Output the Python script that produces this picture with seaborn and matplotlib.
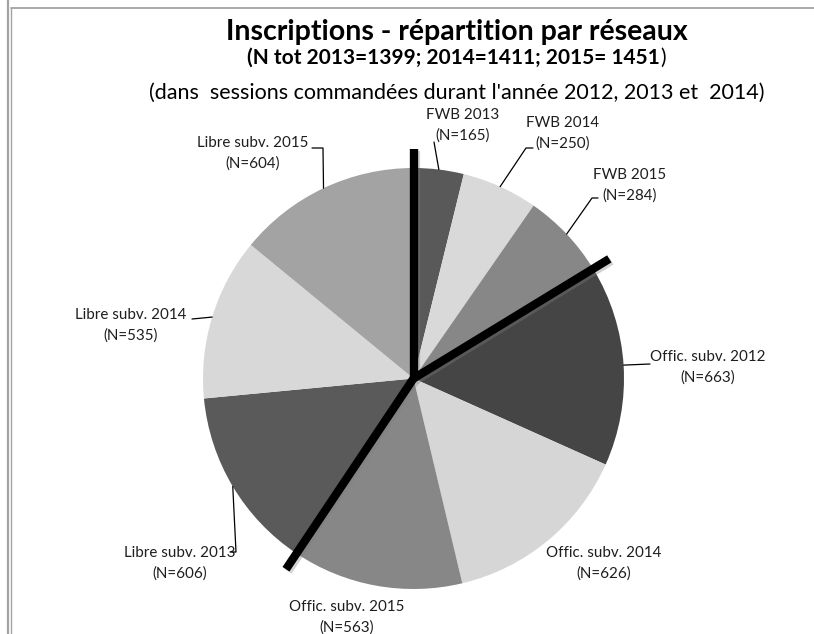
import numpy as np
import matplotlib
matplotlib.use("Agg")
import matplotlib.pyplot as plt
import matplotlib.patheffects as pe
from matplotlib.lines import Line2D
import seaborn as sns

# ---- data -------------------------------------------------------------
categories = ["FWB 2013", "FWB 2014", "FWB 2015",
              "Offic. subv. 2012", "Offic. subv. 2014", "Offic. subv. 2015",
              "Libre subv. 2013", "Libre subv. 2014", "Libre subv. 2015"]
counts = [165, 250, 284, 663, 626, 563, 606, 535, 604]
networks = ["FWB", "FWB", "FWB", "Offic", "Offic", "Offic", "Libre", "Libre", "Libre"]
slice_colors = ["#595959", "#d9d9d9", "#878787",
                "#454545", "#d6d6d6", "#878787",
                "#5a5a5a", "#d8d8d8", "#a3a3a3"]

title = "Inscriptions - répartition par réseaux"
subtitle_bold = "(N tot 2013=1399; 2014=1411; 2015= 1451"
subtitle_end = ")"
subtitle_note = "(dans  sessions commandées durant l'année 2012, 2013 et  2014)"

# ---- layout (pixel units, origin top-left) -----------------------------
W, H = 814, 634
CX, CY, R = 413.5, 378.5, 210.5
# label block: centre of first line, then leader elbow points (label side first)
label_layout = {
    "FWB 2013": ((463, 115), [(434, 142)]),
    "FWB 2014": ((563, 123), [(533, 148), (526, 148)]),
    "FWB 2015": ((630, 175), [(598, 198), (592, 198)]),
    "Offic. subv. 2012": ((708, 357), [(650, 364)]),
    "Offic. subv. 2014": ((604, 553), []),
    "Offic. subv. 2015": ((347, 607), []),
    "Libre subv. 2013": ((180, 553), [(230, 552), (236, 552)]),
    "Libre subv. 2014": ((131, 315), [(192, 319)]),
    "Libre subv. 2015": ((253, 143), [(312, 148), (323, 148)]),
}

sns.set_theme(style="white")
plt.rcParams["font.family"] = ["Lato", "DejaVu Sans"]

fig = plt.figure(figsize=(W / 100, H / 100), dpi=100)
ax = fig.add_axes([0, 0, 1, 1])


def fy(py):
    return H - py


wedges, _ = ax.pie(counts, colors=slice_colors, startangle=90, counterclock=False,
                   center=(CX, fy(CY)), radius=R,
                   wedgeprops=dict(linewidth=0, antialiased=True))
ax.set_xlim(0, W)
ax.set_ylim(0, H)
ax.set_aspect("auto")
ax.axis("off")

# thick separators at the start of each network group
total = float(sum(counts))
cum = np.concatenate([[0], np.cumsum(counts)[:-1]]) / total
for i, net in enumerate(networks):
    if i == 0 or networks[i - 1] != net:
        ang = np.deg2rad(90 - 360 * cum[i])
        ex = CX + 1.09 * R * np.cos(ang)
        ey = fy(CY) + 1.09 * R * np.sin(ang)
        ax.plot([CX, ex], [fy(CY), ey], color="black", lw=6.0,
                solid_capstyle="butt", zorder=5,
                path_effects=[pe.SimpleLineShadow(offset=(1.5, -1.5), shadow_color="gray", alpha=0.35),
                              pe.Normal()])

# labels and leader lines
for w, cat, n in zip(wedges, categories, counts):
    (tx, ty), elbows = label_layout[cat]
    ax.text(tx, fy(ty), cat, ha="center", va="center", fontsize=10.9, color="#1e1e1e")
    ax.text(tx, fy(ty + 21), f"(N={n})", ha="center", va="center", fontsize=10.9, color="#1e1e1e")
    if elbows:
        mid = np.deg2rad((w.theta1 + w.theta2) / 2)
        edge = (CX + R * np.cos(mid), fy(CY) + R * np.sin(mid))
        xs = [p[0] for p in elbows] + [edge[0]]
        ys = [fy(p[1]) for p in elbows] + [edge[1]]
        ax.plot(xs, ys, color="black", lw=0.9, zorder=4)

# titles
ax.text(457, fy(32), title, ha="center", va="center", fontsize=20.5, fontweight="bold", color="black")
t2 = ax.text(453, fy(58), subtitle_bold, ha="center", va="center", fontsize=15,
             fontweight="bold", color="black")
fig.canvas.draw()
bb = t2.get_window_extent()
ax.text(bb.x1 + 1, fy(58), subtitle_end, ha="left", va="center", fontsize=15, color="black")
ax.text(457, fy(93), subtitle_note, ha="center", va="center", fontsize=15.5, color="black")

# outer frame
frame_col = "#a3a3a3"
fig.add_artist(Line2D([8 / W, 8 / W], [0, 1], transform=fig.transFigure, color=frame_col, lw=1.6))
fig.add_artist(Line2D([10.5 / W, 10.5 / W], [0, 1 - 7.5 / H], transform=fig.transFigure, color=frame_col, lw=1.0))
fig.add_artist(Line2D([10.5 / W, 1], [1 - 7.5 / H, 1 - 7.5 / H], transform=fig.transFigure, color=frame_col, lw=1.3))

fig.savefig("out.png", dpi=100, facecolor="white")
